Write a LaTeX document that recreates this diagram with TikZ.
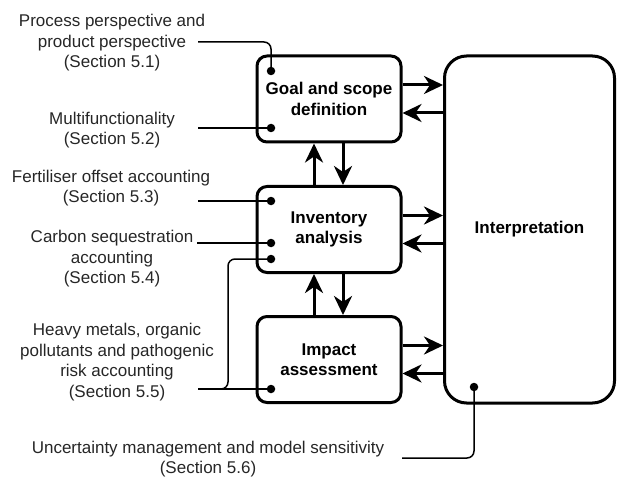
\documentclass[tikz,border=0pt]{standalone}
\usepackage{fontspec}
\setmainfont{Liberation Sans}
\usetikzlibrary{arrows.meta}
\begin{document}
\begin{tikzpicture}[x=1pt,y=-1pt,
  box/.style={draw, line width=3pt, rounded corners=10pt, minimum width=144pt, minimum height=86pt, align=center, font=\bfseries\fontsize{17}{20.5}\selectfont, inner sep=0pt},
  lbl/.style={align=center, font=\fontsize{17}{20.5}\selectfont, inner sep=0pt, text=black!85},
  arr/.style={line width=3pt, -{Stealth[length=19pt,width=18pt,inset=6pt]}},
  conn/.style={line width=1.5pt, rounded corners=7pt},
  dot/.style={circle, fill, inner sep=0pt, minimum size=8.5pt}]
\useasboundingbox (0,0) rectangle (617,478);

% boxes
\node[box] (goal) at (329,99) {Goal and scope\\definition};
\node[box] (inv) at (329,229.5) {Inventory\\analysis};
\node[box] (imp) at (329,359.5) {Impact\\assessment};
\node[box, rounded corners=22pt, minimum width=170pt, minimum height=347pt] (interp) at (529.5,229.5) {Interpretation};

% horizontal arrows
\foreach \b in {goal,inv,imp}{
  \coordinate (\b-o) at ([yshift=14pt]\b.east);
  \coordinate (\b-i) at ([yshift=-14pt]\b.east);
  \draw[arr] (\b-o) -- (\b-o -| interp.west);
  \draw[arr] (\b-i -| interp.west) -- (\b-i);
}

% vertical arrows
\coordinate (u1) at ([xshift=-15pt]inv.north);
\coordinate (w1) at ([xshift=14pt]goal.south);
\draw[arr] (u1) -- (u1 |- goal.south);
\draw[arr] (w1) -- (w1 |- inv.north);
\coordinate (u2) at ([xshift=-15pt]imp.north);
\coordinate (w2) at ([xshift=14pt]inv.south);
\draw[arr] (u2) -- (u2 |- inv.south);
\draw[arr] (w2) -- (w2 |- imp.north);

% labels
\node[lbl] (l1) at (112,43) {Process perspective and\\product perspective\\(Section 5.1)};
\node[lbl] (l2) at (112,130) {Multifunctionality\\(Section 5.2)};
\node[lbl] (l3) at (111,188) {Fertiliser offset accounting\\(Section 5.3)};
\node[lbl] (l4) at (112,259) {Carbon sequestration\\accounting\\(Section 5.4)};
\node[lbl] (l5) at (117,362) {Heavy metals, organic\\pollutants and pathogenic\\risk accounting\\(Section 5.5)};
\node[lbl] (l6) at (208,459) {Uncertainty management and model sensitivity\\(Section 5.6)};

% dots
\node[dot] (d1) at (271,71) {};
\node[dot] (d2) at (271,128) {};
\node[dot] (d3) at (271,201) {};
\node[dot] (d4) at (271,243) {};
\node[dot] (d5) at (271,259) {};
\node[dot] (d6) at (271,389) {};
\node[dot] (d7) at (474,387) {};

% free ends
\coordinate (c1) at (198,42);
\coordinate (c2) at (198,128);
\coordinate (c3) at (198,201);
\coordinate (c4) at (197,243);
\coordinate (c5) at (198,389);
\coordinate (c7) at (402,458);

% connectors
\draw[conn] (c1) -| (d1.center);
\draw[conn] (c2) -- (d2.center);
\draw[conn] (c3) -- (d3.center);
\draw[conn] (c4) -- (d4.center);
\draw[conn] (d5.center) -| ([xshift=30pt]c5) -- (c5);
\draw[conn] (c5) -- (d6.center);
\draw[conn] (c7) -| (d7.center);
\end{tikzpicture}
\end{document}
